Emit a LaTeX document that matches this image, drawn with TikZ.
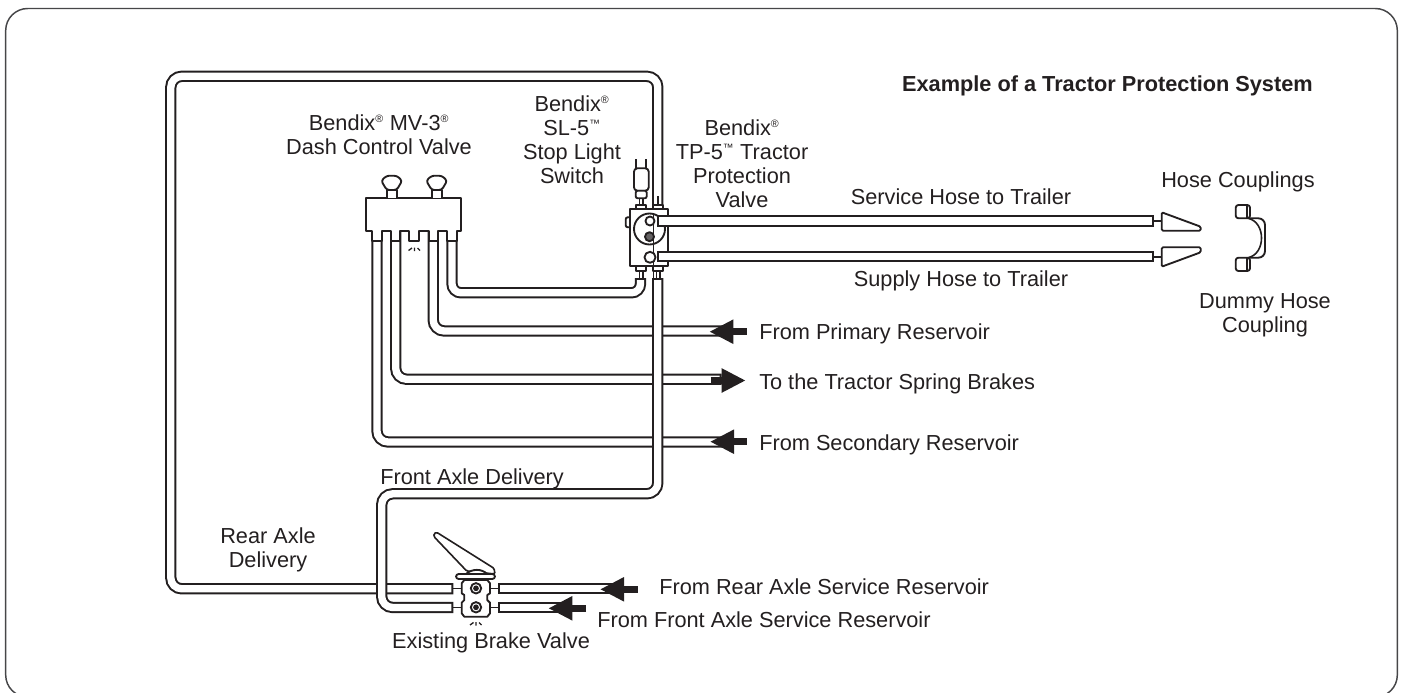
\documentclass[tikz,border=0pt]{standalone}
\usepackage{fontspec}
\setmainfont{Liberation Sans}
\usetikzlibrary{arrows.meta,positioning}
\definecolor{lineBlack}{RGB}{35,31,32}
\definecolor{frameGray}{RGB}{70,70,72}
\newcommand{\regMark}{\textsuperscript{\footnotesize ®}}
\newcommand{\tmMark}{\textsuperscript{\footnotesize ™}}
\tikzset{
  pipe/.style={draw=lineBlack,line width=1.5pt,double=white,double distance=5.5pt,line cap=rect,rounded corners=8.25pt},
  partLine/.style={draw=lineBlack,line width=1.4pt,fill=white,line join=round},
  thinLine/.style={draw=lineBlack,line width=1.2pt},
  flowArrow/.style={draw=lineBlack,line width=5.4pt,-{Triangle[length=18pt,width=17pt]}},
  partLabel/.style={text=lineBlack,font=\fontsize{16.3}{18}\selectfont,inner sep=0pt,align=center},
}
\begin{document}
\begin{tikzpicture}[x=0.75pt,y=-0.75pt]
  \clip (0,0) rectangle (1405,692);
  \draw[frameGray,line width=1.1pt,rounded corners=16.5pt] (5.7,8.5) rectangle (1397.3,697);

  % pipe ends
  \coordinate (tpRear) at (657.8,200.7);
  \coordinate (tpFront) at (657.8,283.7);
  \coordinate (tpDash) at (640.5,283.7);
  \coordinate (brakeRear) at (447.7,588.8);
  \coordinate (brakeFront) at (447.7,607.5);

  \draw[pipe] (tpRear) |- (170.8,76.3) |- (brakeRear);
  \foreach \portX/\endX/\endY in {377/720/442, 395.7/716/379.3, 433.2/720/331}{
    \draw[pipe] (\portX,236) |- (\endX,\endY);
  }
  \draw[pipe,rounded corners=6.75pt] (452,236) |- (640.5,292.8) -- (tpDash);
  \draw[pipe] (tpFront) |- (381.7,493.8) |- (brakeFront);
  \draw[pipe] (504,588.8) -- (610,588.8);
  \draw[pipe] (504,607.5) -- (560,607.5);

  % arrows
  \draw[flowArrow] (746.7,331.7) -- (709.3,331.7);
  \draw[flowArrow] (710.7,380.5) -- (745.7,380.5);
  \draw[flowArrow] (746.7,441.7) -- (710,441.7);
  \draw[flowArrow] (637.7,589.3) -- (600,589.3);
  \draw[flowArrow] (586,608.3) -- (548.3,608.3);

  % dash control valve
  \draw[partLine] (366,198) -- (461,198) -- (461,231) -- (456.7,231) -- (456.7,240.7) -- (447.3,240.7)
    -- (447.3,231) -- (437.7,231) -- (437.7,240.7) -- (428.7,240.7) -- (428.7,231) -- (418.7,231)
    -- (418.7,240.7) -- (409.3,240.7) -- (409.3,231) -- (400.3,231) -- (400.3,240.7) -- (391,240.7)
    -- (391,231) -- (381.7,231) -- (381.7,240.7) -- (372.3,240.7) -- (372.3,231) -- (366,231) -- cycle;
  \foreach \knobX in {391.7,436.7}{
    \draw[partLine] (\knobX-5,198) -- (\knobX-5,190) -- (\knobX+5,190) -- (\knobX+5,198);
    \draw[partLine,rounded corners=2pt] (\knobX-5,190) -- (\knobX-10.5,180.7) -- (\knobX-5,175.7)
      -- (\knobX+5,175.7) -- (\knobX+10.5,180.7) -- (\knobX+5,190) -- cycle;
  }

  % stop light switch
  \draw[thinLine] (636,168) -- (636,159.3) (646,168) -- (646,159.3);
  \draw[partLine,rounded corners=2.5pt] (634,168.3) rectangle (648.7,190.7);
  \draw[partLine,rounded corners=1.5pt] (635.7,190.7) rectangle (646.7,198.3);
  \draw[thinLine] (639.5,198.3) -- (639.5,205) (643,198.3) -- (643,205);

  % tractor protection valve
  \draw[partLine,rounded corners=1.5pt] (625.7,217.3) rectangle (631,227.3);
  \foreach \nubX in {636,652.7}{
    \draw[partLine] (\nubX,209.3) -- (\nubX,205) -- (\nubX+10,205) -- (\nubX+10,209.3);
    \draw[partLine] (\nubX,266) -- (\nubX,270.7) -- (\nubX+10,270.7) -- (\nubX+10,266);
  }
  \draw[thinLine] (657.8,196) -- (657.8,205);
  \draw[thinLine] (639.3,270.7) -- (639.3,279) (643,270.7) -- (643,279) (656.3,270.7) -- (656.3,279) (660,270.7) -- (660,279);
  \draw[partLine] (630,209.3) rectangle (668.3,266);
  \draw[partLine] (649.5,229) circle[radius=15.5];
  \draw[thinLine] (653.5,213.5) -- (653.5,279);
  \draw[partLine] (650,221) circle[radius=4.5];
  \draw[partLine,fill=lineBlack!70] (649.5,236.7) circle[radius=4.5];
  \draw[partLine] (650,257.3) circle[radius=5.5];

  % hoses
  \coordinate (serviceEnd) at (1148.7,221);
  \coordinate (supplyEnd) at (1148.7,256.8);
  \draw[pipe] (663,221) -- (serviceEnd);
  \draw[pipe] (663,256.8) -- (supplyEnd);

  % hose couplings
  \draw[thinLine] (1153,221) -- (1161.7,221) (1153,256.8) -- (1161.7,256.8);
  \draw[partLine,rounded corners=1pt] (1161.7,212.3) -- (1200.7,226.7) -- (1200.7,230.7) -- (1161.7,230.7) -- cycle;
  \draw[partLine,rounded corners=1pt] (1161.7,247.3) -- (1200.7,247.3) -- (1200.7,252.3) -- (1161.7,266.7) -- cycle;

  % dummy coupling
  \draw[partLine,rounded corners=5pt] (1250,218.3) -- (1265,218.3) -- (1265,257.7) -- (1250,257.7);
  \draw[thinLine] (1248,218.3) .. controls (1266,222) and (1266,254) .. (1248,257.7);
  \draw[partLine,rounded corners=2pt] (1235.7,205) rectangle (1250,218.3);
  \draw[partLine,rounded corners=2pt] (1235.7,257.7) rectangle (1250,271);
  \draw[thinLine] (1246.7,205) -- (1246.7,218.3) (1246.7,257.7) -- (1246.7,271);

  % brake valve
  \draw[partLine,line width=1.2pt,rounded corners=1pt] (434,536.7) -- (434,533.5) -- (436.7,532.3) -- (494,568.3) -- (495,574) -- (466.7,571) -- cycle;
  \draw[partLine] (466,574) .. controls (472,568.5) and (482,568.5) .. (487,574);
  \draw[partLine,rounded corners=2pt] (456,574) rectangle (495,579);
  \draw[thinLine] (452,588.3) -- (461.7,588.3) (452,607.3) -- (461.7,607.3) (490,588.3) -- (499.3,588.3) (490,607.3) -- (499.3,607.3);
  \draw[partLine] (464.3,580) -- (487.3,580) -- (490,583.3) -- (490,593.3) -- (487.3,595) -- (487.3,600) -- (490,602.7)
    -- (490,613.3) -- (487.3,616.7) -- (464.3,616.7) -- (461.7,613.3) -- (461.7,602.7) -- (464.3,600) -- (464.3,595)
    -- (461.7,593.3) -- (461.7,583.3) -- cycle;
  \foreach \seatY in {588.3,607.3}{
    \draw[partLine] (476,\seatY) circle[radius=5.2];
    \draw[thinLine,fill=lineBlack] (476,\seatY) circle[radius=2];
  }

  % exhaust marks
  \foreach \ventX/\ventY in {414.5/249,476/623.5}{
    \draw[thinLine,line width=1pt] (\ventX-6,\ventY+1.5) -- (\ventX-2.5,\ventY-1) (\ventX,\ventY-1.5) -- (\ventX,\ventY+2) (\ventX+3,\ventY-1) -- (\ventX+5.5,\ventY+1.5);
  }

  % labels
  \node[partLabel,font=\fontsize{16.3}{18}\selectfont\bfseries,anchor=east] (titleLabel) at (1313,86) {Example of a Tractor Protection System};
  \node[partLabel] (dashLabel) at (379,135) {Bendix\regMark{} MV-3\regMark\\Dash Control Valve};
  \node[partLabel] (switchLabel) at (572,140) {Bendix\regMark\\SL-5\tmMark\\Stop Light\\Switch};
  \node[partLabel] (tpLabel) at (742,164) {Bendix\regMark\\TP-5\tmMark{} Tractor\\Protection\\Valve};
  \node[partLabel] (serviceLabel) at (961,197) {Service Hose to Trailer};
  \node[partLabel] (supplyLabel) at (961,281) {Supply Hose to Trailer};
  \node[partLabel] (couplingLabel) at (1238,182) {Hose Couplings};
  \node[partLabel] (dummyLabel) at (1265,315) {Dummy Hose\\Coupling};
  \node[partLabel,anchor=west] (primaryLabel) at (759,334) {From Primary Reservoir};
  \node[partLabel,anchor=west] (springLabel) at (759,384) {To the Tractor Spring Brakes};
  \node[partLabel,anchor=west] (secondaryLabel) at (759,445) {From Secondary Reservoir};
  \node[partLabel,anchor=west] (frontLabel) at (380,479) {Front Axle Delivery};
  \node[partLabel] (rearLabel) at (268,550) {Rear Axle\\Delivery};
  \node[partLabel,anchor=west] (rearResLabel) at (659,587) {From Rear Axle Service Reservoir};
  \node[partLabel,anchor=west] (frontResLabel) at (597,620) {From Front Axle Service Reservoir};
  \node[partLabel] (brakeLabel) at (491,643) {Existing Brake Valve};
\end{tikzpicture}
\end{document}
